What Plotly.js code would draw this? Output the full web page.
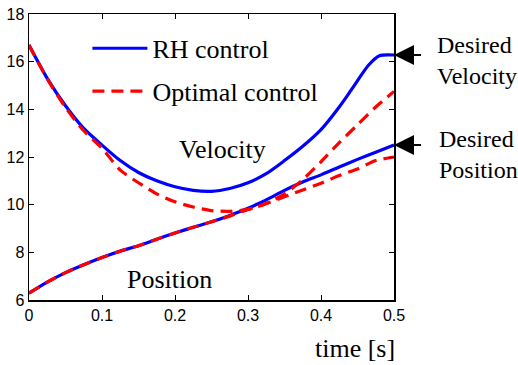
<!DOCTYPE html>
<html>
<head>
<meta charset="utf-8">
<script src="https://cdn.plot.ly/plotly-3.0.1.min.js"></script>
<style>html,body{margin:0;padding:0;background:#fff;}#chart{width:518px;height:365px;}</style>
</head>
<body>
<div id="chart"></div>
<script>
// time samples [s]
var timeVel = [0, 0.025, 0.05, 0.075, 0.1, 0.125, 0.15, 0.175, 0.2, 0.225, 0.25, 0.275, 0.3, 0.325, 0.35, 0.375, 0.4, 0.425, 0.44, 0.45, 0.465, 0.48, 0.5];
var rhVelocity = [16.7, 15.3, 14.15, 13.2, 12.5, 11.85, 11.35, 11.0, 10.75, 10.6, 10.56, 10.68, 10.92, 11.3, 11.85, 12.45, 13.15, 14.1, 14.75, 15.2, 15.85, 16.25, 16.28];

var timeStd = [0, 0.025, 0.05, 0.075, 0.1, 0.125, 0.15, 0.175, 0.2, 0.225, 0.25, 0.275, 0.3, 0.325, 0.35, 0.375, 0.4, 0.425, 0.45, 0.475, 0.5];
var optVelocity = [16.7, 15.28, 14.08, 13.1, 12.37, 11.45, 10.92, 10.45, 10.12, 9.9, 9.75, 9.72, 9.8, 10.05, 10.45, 11.05, 11.8, 12.6, 13.35, 14.1, 14.75];
var rhPosition = [6.29, 6.75, 7.15, 7.48, 7.78, 8.05, 8.28, 8.55, 8.81, 9.05, 9.28, 9.55, 9.85, 10.2, 10.6, 10.95, 11.25, 11.58, 11.9, 12.2, 12.5];
var optPosition = [6.29, 6.75, 7.15, 7.48, 7.78, 8.05, 8.28, 8.55, 8.81, 9.05, 9.28, 9.52, 9.8, 10.05, 10.33, 10.62, 10.9, 11.22, 11.5, 11.85, 12.0];

var xTicks = [0, 0.1, 0.2, 0.3, 0.4, 0.5];
var xTickText = ['0', '0.1', '0.2', '0.3', '0.4', '0.5'];
var yTicks = [6, 8, 10, 12, 14, 16, 18];
var yTickText = ['6', '8', '10', '12', '14', '16', '18'];

var seriesNames = ['RH control', 'Optimal control'];
var desiredVelocity = 16.28, desiredPosition = 12.5;

var blue = '#0000ff', red = '#ff0000';
var serif = 'Liberation Serif, Times New Roman, serif';
var dashStyle = '12px,7px';

var traces = [
  {x: timeVel, y: rhVelocity, mode: 'lines', name: seriesNames[0], legendgroup: 'a',
   line: {color: blue, width: 3.2, shape: 'spline', smoothing: 0.7}},
  {x: timeStd, y: rhPosition, mode: 'lines', showlegend: false,
   line: {color: blue, width: 3.2, shape: 'spline', smoothing: 0.7}},
  {x: timeStd, y: optVelocity, mode: 'lines', name: seriesNames[1], legendgroup: 'b',
   line: {color: red, width: 3.2, dash: dashStyle, shape: 'spline', smoothing: 0.7}},
  {x: timeStd, y: optPosition, mode: 'lines', showlegend: false,
   line: {color: red, width: 3.2, dash: dashStyle, shape: 'spline', smoothing: 0.7}}
];

var axisCommon = {
  showgrid: false, zeroline: false, showline: true, linecolor: '#000', linewidth: 1.5,
  mirror: 'ticks', ticks: 'inside', ticklen: 5, tickwidth: 1, tickcolor: '#000',
  tickfont: {family: 'Liberation Sans, Arial, sans-serif', size: 16, color: '#000'},
  fixedrange: true
};

var layout = {
  width: 518, height: 365,
  margin: {l: 29, r: 124, t: 14, b: 65},
  paper_bgcolor: '#fff', plot_bgcolor: '#fff',
  xaxis: Object.assign({}, axisCommon, {range: [0, 0.5], tickvals: xTicks, ticktext: xTickText}),
  yaxis: Object.assign({}, axisCommon, {range: [6, 18], tickvals: yTicks, ticktext: yTickText}),
  showlegend: true,
  legend: {x: 0.16, y: 0.962, xanchor: 'left', yanchor: 'top', bgcolor: 'rgba(0,0,0,0)',
    font: {family: serif, size: 26, color: '#000'}, traceorder: 'grouped', tracegroupgap: 6,
    itemwidth: 55},
  annotations: [
    {xref: 'x', yref: 'y', x: 0.265, y: 12.33, text: 'Velocity', showarrow: false,
     xanchor: 'center', yanchor: 'middle', font: {family: serif, size: 26, color: '#000'}},
    {xref: 'x', yref: 'y', x: 0.193, y: 6.84, text: 'Position', showarrow: false,
     xanchor: 'center', yanchor: 'middle', font: {family: serif, size: 26, color: '#000'}},
    {xref: 'paper', yref: 'paper', x: 0.894, y: -0.171, text: 'time [s]', showarrow: false,
     xanchor: 'center', yanchor: 'middle', font: {family: serif, size: 26, color: '#000'}},
    {xref: 'x', yref: 'y', x: 0.5, y: desiredVelocity, text: ' ', showarrow: true,
     axref: 'pixel', ayref: 'pixel', ax: 30, ay: 0, arrowhead: 2, arrowsize: 2, arrowwidth: 2, arrowcolor: '#000'},
    {xref: 'x', yref: 'y', x: 0.5, y: desiredPosition, text: ' ', showarrow: true,
     axref: 'pixel', ayref: 'pixel', ax: 30, ay: 0, arrowhead: 2, arrowsize: 2, arrowwidth: 2, arrowcolor: '#000'},
    {xref: 'paper', yref: 'paper', x: 1.113, y: 0.839, xanchor: 'left', yanchor: 'middle', align: 'left',
     text: 'Desired<br>Velocity', showarrow: false, font: {family: serif, size: 24, color: '#000'}},
    {xref: 'paper', yref: 'paper', x: 1.118, y: 0.51, xanchor: 'left', yanchor: 'middle', align: 'left',
     text: 'Desired<br>Position', showarrow: false, font: {family: serif, size: 24, color: '#000'}}
  ]
};

Plotly.newPlot('chart', traces, layout, {displayModeBar: false, staticPlot: true});
</script>
</body>
</html>
